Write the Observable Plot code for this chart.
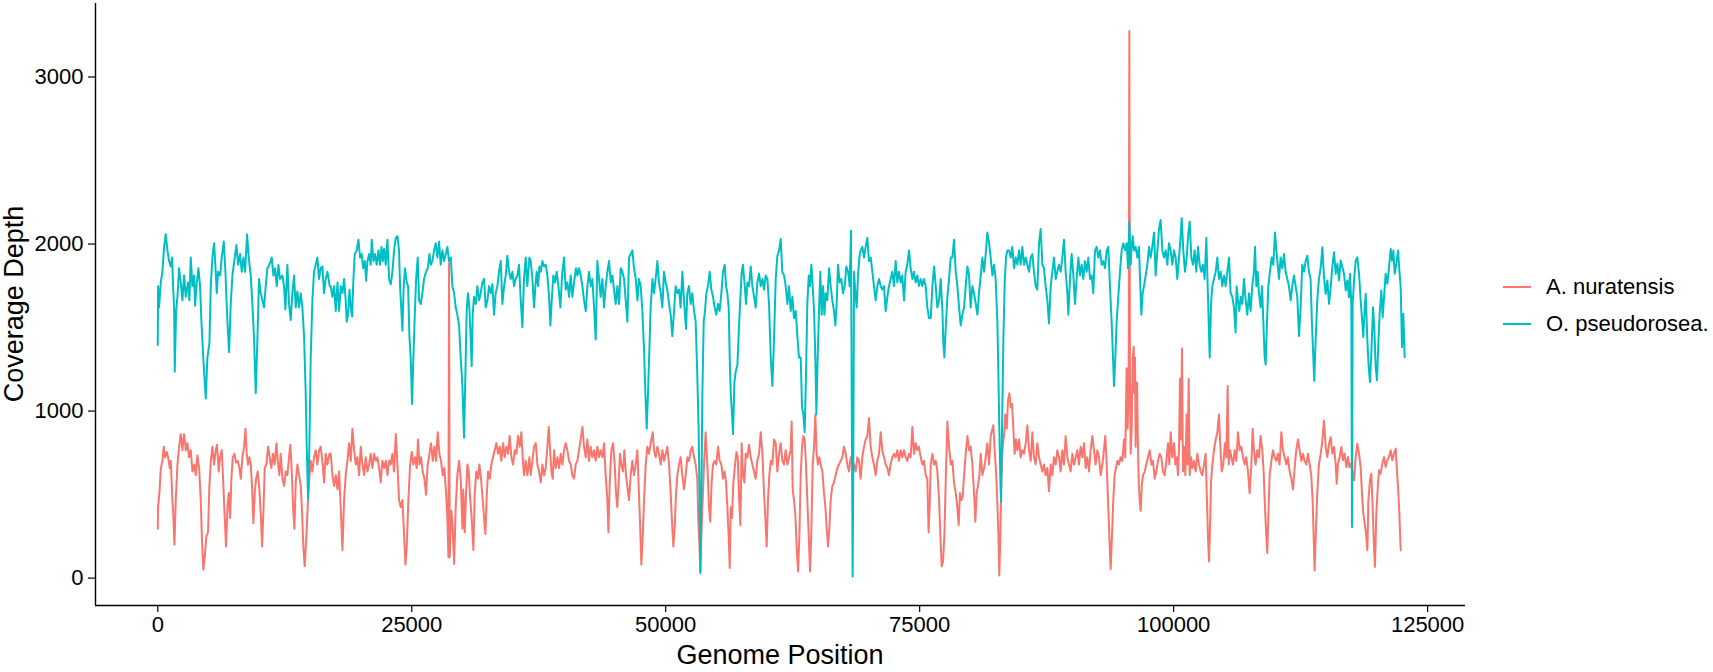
<!DOCTYPE html>
<html>
<head>
<meta charset="utf-8">
<script src="https://cdn.jsdelivr.net/npm/d3@7"></script>
<script src="https://cdn.jsdelivr.net/npm/@observablehq/plot@0.6"></script>
<style>
html, body { margin: 0; padding: 0; background: #fff; }
#wrap { position: relative; width: 1713px; height: 672px; font-family: "Liberation Sans", Arial, sans-serif; }
.leg { position: absolute; left: 1503px; display: flex; align-items: center; font-size: 22px; line-height: 26px; height: 26px; color: #000; white-space: nowrap; }
.leg .sw { width: 28px; height: 2px; margin-right: 15px; }
</style>
</head>
<body>
<div id="wrap"></div>
<script>
const seriesNames = ["A. nuratensis", "O. pseudorosea."];
const seriesColors = ["#F8766D", "#00BFC4"];
const xTicks = [0, 25000, 50000, 75000, 100000, 125000];
const yTicks = [0, 1000, 2000, 3000];
const xTitle = "Genome Position";
const yTitle = "Coverage Depth";

// [genome position, coverage depth]
const aNuratensis = [
[0,296],[30,424],[160,509],[300,659],[460,702],[590,787],[720,723],[890,755],[1020,723],[1180,659],[1280,702],[1440,467],[1540,360],[1640,200],[1770,467],[1940,680],[2100,787],[2260,862],[2430,766],[2590,862],[2760,766],[2920,808],[3080,723],[3250,766],[3410,638],[3580,680],[3740,616],[3900,734],[4070,659],[4230,467],[4360,210],[4490,50],[4620,125],[4790,253],[4950,274],[5080,552],[5220,702],[5380,787],[5540,680],[5710,766],[5840,798],[6000,638],[6130,723],[6300,766],[6460,552],[6590,360],[6720,189],[6860,424],[6990,509],[7120,360],[7250,595],[7380,723],[7540,744],[7710,691],[7870,702],[8040,659],[8170,595],[8330,723],[8500,787],[8630,894],[8760,744],[8890,680],[9020,723],[9150,680],[9280,552],[9410,328],[9540,509],[9680,595],[9840,638],[10000,531],[10140,381],[10270,189],[10400,403],[10530,659],[10690,680],[10860,787],[11020,723],[11180,659],[11350,744],[11510,680],[11680,808],[11810,702],[11970,616],[12100,744],[12270,595],[12430,552],[12600,638],[12760,616],[12920,723],[13050,798],[13190,638],[13320,424],[13450,296],[13580,573],[13740,680],[13910,616],[14070,552],[14200,403],[14330,189],[14460,72],[14630,253],[14790,467],[14920,595],[15060,702],[15220,638],[15380,723],[15550,766],[15710,680],[15880,766],[16040,787],[16200,702],[16370,573],[16530,744],[16700,680],[16890,744],
[17030,744],[17190,616],[17360,552],[17520,616],[17690,531],[17850,638],[18010,424],[18180,168],[18340,467],[18500,616],[18670,702],[18830,808],[19000,702],[19160,894],[19330,766],[19490,680],[19650,723],[19820,616],[19980,787],[20150,680],[20310,616],[20470,723],[20640,638],[20800,680],[20960,744],[21130,659],[21290,744],[21460,702],[21620,723],[21790,659],[21950,573],[22110,702],[22280,659],[22440,702],[22610,616],[22770,702],[22930,680],[23100,744],[23260,638],[23430,862],[23590,680],[23750,467],[23920,424],[24080,467],[24250,253],[24380,80],[24510,189],[24670,467],[24840,680],[25000,755],[25160,680],[25330,723],[25490,659],[25620,830],[25750,680],[25920,723],[26080,638],[26250,595],[26410,499],[26570,680],[26740,744],[26900,808],[27070,702],[27230,787],[27390,702],[27560,873],[27720,744],[27880,702],[28050,616],[28210,659],[28380,509],[28510,360],[28610,125],[28670,1887],[28740,125],[28900,403],[29030,317],[29170,85],[29330,424],[29490,616],[29660,702],[29820,595],[29990,296],[30080,531],[30220,274],[30350,509],[30480,680],[30610,638],[30740,488],[30900,360],[31070,168],[31200,509],[31360,638],[31530,595],[31660,680],[31820,595],[31990,467],[32120,360],[32250,264],[32380,488],[32510,638],[32680,595],[32840,680],[33000,723],[33170,766],[33330,808],[33500,744],[33660,787],[33820,702],[33990,808],[34150,723],[34310,787],[34480,744],[34640,851],[34810,723],[34970,680],[35140,766],[35300,744],[35460,851],[35630,787],[35790,873],[35920,723],[36050,616],[36220,702],[36380,616],[36580,723],
[36710,616],[36880,702],[37040,787],[37210,808],[37370,680],[37530,638],[37700,573],[37860,680],[38030,616],[38190,659],[38350,787],[38490,905],[38620,766],[38750,638],[38880,595],[39010,766],[39170,659],[39340,723],[39500,659],[39670,744],[39830,680],[39990,766],[40160,808],[40320,766],[40490,702],[40650,680],[40810,616],[40980,595],[41140,680],[41310,702],[41470,766],[41630,830],[41800,905],[41960,787],[42130,723],[42290,830],[42450,702],[42620,787],[42780,723],[42950,766],[43110,702],[43270,787],[43440,723],[43600,766],[43770,723],[43930,808],[44090,616],[44260,467],[44360,274],[44490,573],[44650,766],[44820,808],[44980,680],[45110,509],[45240,424],[45370,573],[45500,744],[45640,680],[45800,638],[45930,766],[46090,616],[46260,531],[46390,467],[46550,616],[46720,702],[46880,616],[47050,680],[47210,766],[47340,552],[47470,338],[47600,80],[47740,253],[47870,467],[48030,680],[48190,787],[48360,744],[48520,808],[48720,873],[48850,766],[49010,723],[49180,787],[49340,744],[49510,680],[49670,766],[49830,702],[50000,744],[50160,787],[50330,680],[50490,509],[50620,338],[50750,189],[50880,296],[51020,509],[51150,616],[51310,680],[51470,723],[51640,616],[51800,531],[51970,616],[52130,723],[52290,702],[52460,766],[52620,787],[52790,723],[52950,680],[53110,595],[53210,338],[53310,210],[53410,40],[53510,253],[53640,467],[53770,680],[53930,873],[54100,680],[54260,424],[54390,338],[54520,573],[54660,680],[54820,702],[54980,680],[55150,787],[55310,702],[55480,680],[55640,595],[55800,638],[55940,573],[56070,424],[56200,253],[56300,60],
[56400,424],[56530,360],[56660,573],[56830,680],[56960,755],[57090,723],[57220,488],[57350,317],[57480,808],[57610,616],[57740,573],[57880,744],[58040,723],[58200,798],[58370,723],[58530,680],[58700,638],[58860,595],[59020,702],[59190,744],[59350,873],[59520,744],[59680,509],[59810,360],[59940,189],[60070,467],[60200,616],[60340,702],[60500,680],[60660,830],[60830,808],[60990,638],[61160,744],[61320,808],[61480,702],[61650,680],[61810,766],[61980,680],[62140,723],[62300,766],[62400,937],[62500,531],[62630,467],[62760,381],[62890,189],[63030,40],[63160,253],[63290,616],[63420,787],[63550,851],[63680,830],[63810,680],[63940,467],[64080,253],[64210,40],[64340,296],[64470,680],[64600,787],[64730,979],[64860,744],[64990,680],[65120,723],[65260,680],[65420,638],[65580,509],[65720,424],[65850,296],[65980,189],[66110,296],[66240,467],[66400,552],[66570,573],[66730,616],[66900,659],[67060,680],[67220,702],[67390,723],[67550,787],[67720,744],[67880,680],[68040,638],[68210,723],[68370,702],[68540,680],[68700,638],[68860,723],[69030,702],[69190,595],[69360,723],[69520,787],[69680,830],[69850,851],[70010,958],[70180,787],[70340,723],[70500,680],[70670,616],[70830,702],[71000,744],[71160,873],[71320,766],[71490,723],[71650,680],[71820,659],[71980,616],[72140,680],[72310,723],[72470,744],[72640,723],[72800,766],[72960,702],[73130,766],[73290,723],[73460,766],[73620,723],[73780,702],[73950,744],[74110,723],[74280,905],[74440,744],[74600,808],[74770,766],[74930,787],[75100,723],[75260,680],[75420,702],[75590,616],[75750,595],[75880,274],[75980,424],
[76090,680],[76250,744],[76420,680],[76580,702],[76740,638],[76910,467],[77040,253],[77170,70],[77300,100],[77430,253],[77560,573],[77730,937],[77890,787],[78060,680],[78220,702],[78380,573],[78550,509],[78710,424],[78840,317],[78970,509],[79110,467],[79240,488],[79370,616],[79530,744],[79700,851],[79860,766],[80020,787],[80190,680],[80350,509],[80480,338],[80610,509],[80740,552],[80880,616],[81010,744],[81170,616],[81340,659],[81500,723],[81660,808],[81830,680],[81990,851],[82160,894],[82250,915],[82380,766],[82520,638],[82650,446],[82750,253],[82840,15],[82940,253],[83040,595],[83170,787],[83300,851],[83430,979],[83570,894],[83700,1065],[83830,1107],[83960,1022],[84090,1043],[84220,894],[84350,744],[84480,830],[84620,766],[84780,830],[84940,723],[85110,766],[85270,744],[85440,808],[85600,915],[85760,766],[85930,702],[86090,873],[86250,723],[86420,680],[86580,808],[86750,723],[86910,680],[87080,638],[87240,680],[87400,616],[87570,659],[87730,520],[87900,680],[88060,616],[88220,723],[88390,680],[88550,766],[88720,723],[88880,638],[89040,766],[89210,680],[89370,851],[89540,723],[89700,680],[89860,638],[90030,744],[90190,680],[90360,723],[90520,766],[90680,680],[90850,787],[91010,723],[91180,808],[91340,659],[91500,723],[91670,638],[91830,766],[92000,851],[92160,766],[92320,680],[92490,766],[92650,723],[92820,616],[92980,680],[93140,766],[93270,851],[93410,680],[93540,467],[93670,253],[93800,55],[93930,253],[94060,467],[94190,616],[94320,659],[94460,702],[94620,680],[94780,723],[94950,702],[95110,830],[95240,723],[95370,1257],[95470,894],[95570,1107],[95640,3276],[95700,1214],
[95770,744],[95870,894],[95970,1321],[96070,1385],[96130,1107],[96200,1321],[96260,787],[96330,1107],[96400,1171],[96460,894],[96560,573],[96660,467],[96760,403],[96860,552],[96990,616],[97150,638],[97310,680],[97480,723],[97640,766],[97810,680],[97970,702],[98130,595],[98300,638],[98460,702],[98630,744],[98790,723],[98950,638],[99120,616],[99280,702],[99450,808],[99580,680],[99710,873],[99870,723],[100040,808],[100170,680],[100300,723],[100430,616],[100530,787],[100630,1193],[100720,830],[100820,1374],[100920,638],[101020,787],[101150,616],[101280,979],[101380,680],[101480,1193],[101580,616],[101710,723],[101840,659],[102000,702],[102170,638],[102330,744],[102500,680],[102660,638],[102820,616],[102990,680],[103150,744],[103280,467],[103380,253],[103480,100],[103580,296],[103680,573],[103810,680],[103970,766],[104140,830],[104300,873],[104460,979],[104600,787],[104730,638],[104890,680],[105050,808],[105190,723],[105320,1150],[105420,680],[105550,766],[105680,723],[105840,680],[106010,766],[106170,702],[106330,873],[106500,766],[106660,787],[106830,723],[106990,680],[107150,723],[107320,638],[107480,509],[107650,680],[107780,894],[107910,766],[108070,680],[108240,766],[108400,723],[108560,851],[108730,766],[108860,638],[108990,424],[109120,253],[109220,150],[109320,360],[109450,616],[109620,702],[109780,766],[109940,723],[110110,702],[110270,744],[110430,680],[110600,873],[110760,766],[110930,723],[111090,680],[111250,723],[111420,638],[111580,595],[111750,531],[111910,659],[112070,766],[112240,830],[112400,766],[112570,702],[112730,744],[112890,702],[113060,680],[113220,744],[113390,680],[113550,616],[113680,467],[113780,253],[113880,45],[114010,296],[114140,509],[114300,680],
[114480,745],[114640,825],[114800,944],[114970,785],[115130,725],[115300,805],[115460,844],[115620,745],[115790,785],[115950,685],[116050,565],[116180,685],[116340,725],[116510,785],[116670,705],[116840,745],[117000,665],[117170,725],[117300,665],[117430,685],[117590,645],[117760,585],[117920,725],[118080,805],[118250,745],[118410,665],[118540,506],[118670,386],[118810,326],[118940,266],[119070,167],[119170,466],[119330,585],[119460,625],[119590,426],[119720,187],[119820,67],[119950,386],[120080,526],[120220,645],[120380,625],[120540,685],[120710,725],[120870,665],[121040,705],[121200,725],[121370,765],[121530,705],[121690,745],[121860,775],[121960,665],[122090,546],[122220,386],[122350,167]
];

const oPseudorosea = [
[0,1396],[30,1748],[130,1620],[295,1770],[459,1834],[623,1983],[787,2058],[951,1962],[1115,1898],[1279,1866],[1410,1919],[1509,1748],[1607,1620],[1673,1236],[1804,1599],[1935,1684],[2099,1855],[2263,1770],[2427,1663],[2591,1812],[2755,1684],[2985,1770],[3116,1663],[3247,1919],[3411,1748],[3575,1812],[3674,1631],[3805,1748],[4002,1855],[4166,1748],[4297,1535],[4494,1300],[4723,1075],[4887,1321],[5084,1406],[5215,1748],[5379,1919],[5543,2005],[5707,1834],[5806,1706],[5937,1834],[6134,1812],[6298,1919],[6494,2015],[6658,1834],[6855,1535],[7019,1353],[7183,1641],[7347,1812],[7577,1919],[7741,1994],[7905,1876],[8102,1940],[8266,1834],[8430,1919],[8594,1834],[8790,2058],[8954,1919],[9151,1812],[9348,1599],[9479,1428],[9643,1107],[9807,1428],[9971,1791],[10135,1706],[10299,1663],[10463,1620],[10627,1748],[10791,1855],[10988,1876],[11218,1919],[11382,1812],[11546,1855],[11710,1748],[11874,1876],[12038,1791],[12267,1812],[12431,1748],[12562,1609],[12759,1876],[12923,1641],[13087,1545],[13251,1706],[13415,1812],[13579,1620],[13743,1716],[13907,1620],[14071,1706],[14235,1620],[14399,1449],[14563,1107],[14662,787],[14793,477],[14924,787],[15055,1321],[15219,1663],[15383,1834],[15547,1876],[15711,1919],[15875,1791],[16039,1855],[16203,1866],[16367,1706],[16531,1791],[16695,1834],[16925,1748],
[17030,1748],[17190,1684],[17360,1748],[17520,1599],[17690,1770],[17850,1599],[18010,1748],[18180,1706],[18340,1791],[18500,1663],[18600,1535],[18730,1577],[18870,1727],[19000,1620],[19130,1567],[19260,1791],[19390,1940],[19590,1962],[19750,2026],[19920,1919],[20080,1940],[20210,1855],[20380,1898],[20510,1780],[20640,1898],[20800,1940],[20960,1876],[21060,2026],[21230,1898],[21390,1940],[21560,1876],[21720,1962],[21880,1876],[22020,1983],[22150,1898],[22280,1972],[22440,1876],[22610,2026],[22770,1791],[22930,1759],[23100,1834],[23260,1962],[23430,2037],[23590,2047],[23750,1962],[23850,1748],[23980,1599],[24080,1481],[24210,1748],[24340,1855],[24510,1770],[24640,1748],[24770,1449],[24900,1321],[25030,1043],[25160,1321],[25300,1577],[25430,1791],[25590,1919],[25720,1663],[25890,1641],[26050,1706],[26210,1791],[26410,1834],[26570,1855],[26740,1940],[26870,1876],[27030,1898],[27200,1962],[27360,2005],[27520,1919],[27690,2015],[27850,1876],[28020,1962],[28180,1898],[28350,1940],[28510,1983],[28670,1898],[28840,1919],[29000,1748],[29170,1706],[29330,1620],[29490,1577],[29660,1513],[29820,1321],[29990,1150],[30150,840],[30280,1214],[30410,1599],[30540,1706],[30670,1620],[30810,1428],[30900,1268],[31000,1577],[31130,1684],[31300,1641],[31460,1748],[31630,1663],[31790,1706],[31950,1770],[32120,1791],[32280,1620],[32450,1663],[32610,1748],[32770,1706],[32940,1759],[33100,1577],[33260,1706],[33430,1748],[33590,1834],[33760,1898],[33920,1641],[34090,1748],[34250,1812],[34410,1930],[34580,1834],[34740,1791],[34910,1834],[35070,1748],[35230,1791],[35400,1812],[35560,1876],[35730,1663],[35890,1502],[36050,1791],[36220,1919],[36380,1748],[36580,1919],
[36710,1898],[36880,1791],[37040,1620],[37170,1748],[37300,1834],[37440,1748],[37570,1866],[37700,1834],[37860,1898],[38030,1866],[38190,1876],[38350,1812],[38520,1684],[38650,1513],[38780,1663],[38940,1812],[39110,1770],[39270,1834],[39440,1748],[39630,1620],[39800,1812],[39990,1919],[40160,1727],[40320,1770],[40490,1684],[40650,1812],[40810,1684],[40980,1770],[41170,1855],[41310,1812],[41470,1855],[41630,1812],[41800,1748],[41960,1663],[42130,1599],[42290,1748],[42450,1834],[42620,1748],[42780,1791],[42950,1620],[43110,1428],[43270,1898],[43440,1791],[43600,1684],[43770,1791],[43930,1620],[44090,1748],[44260,1834],[44420,1898],[44590,1770],[44750,1812],[44910,1727],[45080,1641],[45240,1748],[45410,1641],[45570,1855],[45730,1834],[45900,1791],[46060,1663],[46230,1535],[46390,1919],[46550,1940],[46720,1962],[46880,1855],[47050,1791],[47210,1663],[47370,1791],[47540,1748],[47700,1599],[47870,1364],[48000,1107],[48130,894],[48260,1107],[48390,1364],[48520,1620],[48690,1791],[48850,1706],[49010,1791],[49180,1898],[49340,1770],[49510,1706],[49670,1620],[49830,1834],[50000,1770],[50160,1727],[50330,1641],[50490,1577],[50650,1449],[50820,1599],[50980,1748],[51150,1706],[51310,1727],[51470,1620],[51640,1834],[51800,1663],[52000,1492],[52130,1706],[52290,1748],[52460,1641],[52620,1706],[52790,1599],[52950,1535],[53110,1214],[53240,894],[53340,467],[53410,30],[53510,467],[53610,1107],[53740,1535],[53870,1599],[54000,1706],[54160,1748],[54330,1834],[54490,1727],[54660,1684],[54820,1620],[54980,1577],[55150,1641],[55310,1599],[55480,1706],[55640,1834],[55810,1876],[55940,1748],[56070,1706],[56200,1620],[56300,1321],
[56400,1107],[56530,979],[56630,862],[56760,1171],[56890,1236],[57060,1278],[57190,1471],[57320,1641],[57480,1834],[57610,1876],[57780,1748],[57910,1641],[58040,1770],[58200,1748],[58370,1866],[58530,1748],[58700,1684],[58860,1620],[59020,1770],[59190,1823],[59350,1748],[59520,1791],[59680,1727],[59840,1812],[60010,1791],[60170,1641],[60340,1321],[60500,1150],[60660,1428],[60830,1791],[60990,1930],[61160,1962],[61320,2030],[61480,1834],[61650,1812],[61810,1748],[61980,1641],[62140,1748],[62300,1599],[62470,1684],[62630,1556],[62800,1599],[62960,1449],[63120,1321],[63290,1321],[63420,1022],[63550,979],[63680,873],[63810,1214],[63940,1641],[64080,1812],[64210,1748],[64340,1876],[64470,1748],[64600,1599],[64730,1321],[64830,979],[64960,1321],[65090,1599],[65220,1834],[65350,1577],[65490,1748],[65620,1577],[65750,1706],[65910,1663],[66080,1855],[66240,1748],[66400,1663],[66570,1599],[66700,1513],[66830,1641],[66960,1876],[67130,1770],[67290,1791],[67450,1706],[67620,1748],[67780,1866],[67950,1834],[68110,1748],[68240,2079],[68310,1107],[68400,10],[68470,723],[68540,1834],[68670,1706],[68800,1620],[68930,1812],[69060,1919],[69190,1962],[69360,1983],[69520,1919],[69680,1983],[69850,2037],[70010,1898],[70180,1919],[70340,1834],[70500,1748],[70670,1663],[70830,1748],[71000,1791],[71160,1748],[71320,1727],[71490,1748],[71650,1599],[71820,1684],[71980,1748],[72140,1791],[72310,1834],[72470,1748],[72640,1898],[72800,1770],[72960,1834],[73130,1770],[73290,1812],[73460,1663],[73620,1834],[73780,1876],[73950,1962],[74110,1855],[74280,1791],[74440,1834],[74600,1770],[74770,1812],[74930,1748],[75100,1791],[75260,1748],[75420,1791],[75590,1748],[75750,1620],[75920,1556],
[76090,1556],[76250,1748],[76420,1866],[76580,1748],[76740,1620],[76910,1663],[77070,1791],[77240,1599],[77330,1406],[77430,1321],[77560,1492],[77730,1684],[77890,1791],[78060,1919],[78220,1919],[78380,2026],[78550,1834],[78710,1748],[78880,1620],[79040,1513],[79200,1577],[79370,1620],[79530,1748],[79700,1866],[79860,1812],[80020,1620],[80190,1748],[80350,1706],[80520,1641],[80680,1577],[80840,1706],[81010,1812],[81170,1919],[81340,1834],[81500,1940],[81660,2069],[81830,2005],[81990,1919],[82160,1812],[82320,1876],[82480,1791],[82650,1535],[82750,1214],[82840,894],[82940,595],[83010,456],[83110,894],[83240,1428],[83370,1770],[83500,1919],[83630,1962],[83800,1962],[83960,1919],[84120,1983],[84290,1855],[84450,1919],[84620,1876],[84780,1962],[84940,1876],[85110,1983],[85270,1876],[85440,1919],[85600,1876],[85760,1834],[85930,1919],[86090,1940],[86250,1834],[86420,1748],[86580,1727],[86750,2005],[86910,2090],[87080,1876],[87240,1855],[87400,1748],[87570,1663],[87730,1524],[87900,1748],[88060,1834],[88220,1919],[88390,1791],[88550,1834],[88720,1876],[88880,1834],[89040,1919],[89210,2026],[89370,1834],[89540,1706],[89630,1577],[89800,1791],[89960,1940],[90130,1812],[90290,1641],[90450,1791],[90620,1919],[90780,1812],[90950,1876],[91110,1791],[91270,1898],[91440,1834],[91600,1919],[91770,1791],[91930,1812],[92090,1706],[92260,1962],[92420,1983],[92590,1919],[92750,1962],[92910,1876],[93080,1898],[93240,1855],[93410,1962],[93570,1983],[93730,1748],[93900,1535],[94030,1321],[94130,1150],[94260,1321],[94390,1535],[94550,1684],[94720,1834],[94880,1962],[95050,2005],[95210,1962],[95380,2005],[95510,1855],[95640,2133],[95770,1876],
[95840,1962],[95970,2047],[96100,1962],[96260,1983],[96430,1919],[96590,1983],[96690,1791],[96820,1577],[96950,1706],[97080,1748],[97250,1812],[97410,1876],[97580,1983],[97740,1919],[97900,1983],[98070,2069],[98230,1812],[98400,1962],[98560,2090],[98720,2144],[98890,1962],[99050,1919],[99220,1962],[99380,1876],[99540,2005],[99710,1962],[99870,1876],[100040,1962],[100200,1919],[100360,1791],[100530,1919],[100690,2047],[100790,2154],[100950,1962],[101120,1834],[101280,1919],[101450,2069],[101580,2133],[101740,1919],[101910,1876],[102070,1962],[102230,1834],[102400,1983],[102560,1876],[102730,1834],[102890,1876],[103050,1791],[103220,2037],[103350,1748],[103450,1535],[103550,1321],[103680,1641],[103810,1748],[103970,1791],[104140,1834],[104300,1919],[104460,1791],[104630,1834],[104790,1748],[104960,1812],[105120,1748],[105280,1834],[105450,1919],[105610,1706],[105780,1684],[105940,1620],[106100,1471],[106200,1748],[106330,1663],[106460,1599],[106600,1684],[106760,1641],[106920,1791],[107090,1663],[107250,1577],[107420,1706],[107580,1599],[107740,1748],[107910,1834],[108010,1983],[108140,1748],[108270,1834],[108400,1706],[108560,1620],[108700,1748],[108830,1535],[108960,1321],[109060,1278],[109190,1535],[109320,1748],[109480,1834],[109650,1919],[109810,1876],[109980,2069],[110110,1962],[110240,1876],[110370,1791],[110530,1919],[110700,1855],[110860,1940],[111020,1834],[111190,1791],[111350,1748],[111520,1663],[111680,1748],[111840,1812],[112010,1748],[112170,1684],[112340,1449],[112500,1620],[112660,1876],[112830,1834],[112990,1898],[113160,1930],[113320,1834],[113480,1791],[113610,1535],[113750,1321],[113840,1182],[113980,1428],[114140,1663],[114300,1791],
[114480,1862],[114640,1981],[114800,1802],[114970,1702],[115130,1782],[115300,1642],[115460,1742],[115620,1862],[115790,1951],[115950,1822],[116120,1882],[116280,1782],[116440,1901],[116610,1862],[116770,1822],[116940,1722],[117100,1782],[117260,1682],[117360,1822],[117490,1642],[117560,306],[117620,1642],[117760,1782],[117920,1901],[118080,1921],[118250,1822],[118410,1662],[118580,1523],[118670,1443],[118810,1622],[118910,1702],[119070,1423],[119200,1263],[119330,1174],[119460,1343],[119630,1622],[119760,1483],[119890,1263],[120020,1184],[120150,1403],[120280,1582],[120450,1722],[120580,1562],[120710,1682],[120870,1822],[121040,1762],[121200,1862],[121370,1971],[121500,1901],[121630,1961],[121760,1822],[121920,1882],[122090,1961],[122220,1842],[122350,1742],[122480,1383],[122610,1582],[122740,1323]
];

const seriesData = [aNuratensis, oPseudorosea];
const rows = seriesData.flatMap((arr, i) => arr.map(([pos, depth]) => ({series: seriesNames[i], pos, depth})));

const xDomain = [-6130, 128730];
const yDomain = [-164, 3440];

const chart = Plot.plot({
  width: 1713,
  height: 672,
  marginLeft: 95,
  marginRight: 248,
  marginTop: 3,
  marginBottom: 67,
  style: {background: "white", fontFamily: "'Liberation Sans', Arial, sans-serif", fontSize: "22px", color: "#000", overflow: "visible"},
  x: {domain: xDomain},
  y: {domain: yDomain},
  color: {domain: seriesNames, range: seriesColors},
  marks: [
    Plot.line(rows, {x: "pos", y: "depth", z: "series", stroke: "series", strokeWidth: 2}),
    Plot.ruleY([yDomain[0]], {stroke: "#000", strokeWidth: 1.4}),
    Plot.ruleX([xDomain[0]], {stroke: "#000", strokeWidth: 1.4}),
    Plot.axisX({ticks: xTicks, tickSize: 7, tickPadding: 4, tickFormat: d => String(d), label: null, strokeWidth: 1.2}),
    Plot.axisY({ticks: yTicks, tickSize: 7, tickPadding: 5, tickFormat: d => String(d), label: null, strokeWidth: 1.2})
  ]
});

const wrap = document.getElementById("wrap");
wrap.appendChild(chart);

const svg = d3.select(chart);
svg.append("text")
  .attr("x", 780).attr("y", 664)
  .attr("text-anchor", "middle")
  .attr("font-size", 27)
  .attr("fill", "#000")
  .text(xTitle);
svg.append("text")
  .attr("transform", "translate(23,304) rotate(-90)")
  .attr("text-anchor", "middle")
  .attr("font-size", 27)
  .attr("fill", "#000")
  .text(yTitle);

// legend
const legendTops = [274, 311];
seriesNames.forEach((name, i) => {
  const item = document.createElement("div");
  item.className = "leg";
  item.style.top = legendTops[i] + "px";
  const sw = document.createElement("div");
  sw.className = "sw";
  sw.style.background = seriesColors[i];
  const label = document.createElement("span");
  label.textContent = name;
  item.appendChild(sw);
  item.appendChild(label);
  wrap.appendChild(item);
});
</script>
</body>
</html>
